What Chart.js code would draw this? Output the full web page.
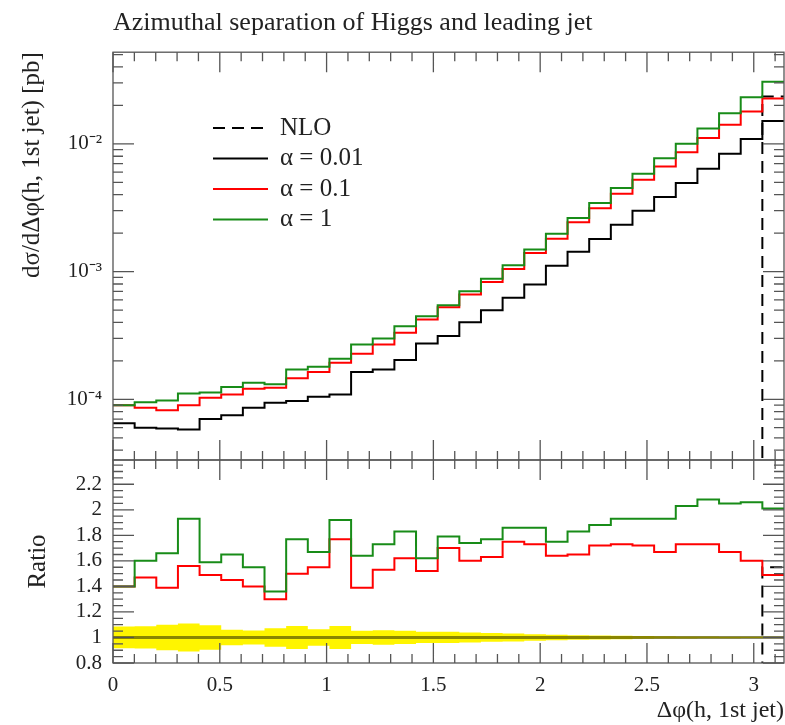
<!DOCTYPE html>
<html>
<head>
<meta charset="utf-8">
<title>Azimuthal separation of Higgs and leading jet</title>
<script src="https://cdn.jsdelivr.net/npm/chart.js@4.4.1/dist/chart.umd.min.js"></script>
<style>
  html, body { margin: 0; padding: 0; background: #fff; }
  #wrap { position: relative; width: 785px; height: 725px; }
  #wrap canvas { position: absolute; left: 0; top: 0; }
</style>
</head>
<body>
<div id="wrap">
  <canvas id="main" width="785" height="725"></canvas>
  <canvas id="ratio" width="785" height="725"></canvas>
</div>
<script>
// Histogram contents, 31 bins over [0, pi]
// ========================================================================
var nBins = 31;

var nlo = [0, 0, 0, 0, 0, 0, 0, 0, 0, 0, 0, 0, 0, 0, 0,
           0, 0, 0, 0, 0, 0, 0, 0, 0, 0, 0, 0, 0, 0, 0, 2.35e-2];

var alpha001 = [6.5e-5, 6.0e-5, 5.9e-5, 5.8e-5, 7.0e-5, 7.5e-5, 8.6e-5, 9.4e-5, 9.7e-5, 1.05e-4,
                1.09e-4, 1.64e-4, 1.71e-4, 2.03e-4, 2.74e-4, 3.13e-4, 4.02e-4, 4.99e-4, 6.23e-4, 7.91e-4,
                1.11e-3, 1.43e-3, 1.80e-3, 2.33e-3, 3.00e-3, 3.83e-3, 4.93e-3, 6.38e-3, 8.35e-3, 1.09e-2,
                1.51e-2];

var alpha01 = [9.0e-5, 8.6e-5, 8.2e-5, 9.0e-5, 1.03e-4, 1.09e-4, 1.21e-4, 1.23e-4, 1.46e-4, 1.64e-4,
               1.93e-4, 2.27e-4, 2.69e-4, 3.32e-4, 4.22e-4, 5.26e-4, 6.61e-4, 8.30e-4, 1.05e-3, 1.40e-3,
               1.81e-3, 2.43e-3, 3.14e-3, 4.07e-3, 5.24e-3, 6.65e-3, 8.61e-3, 1.11e-2, 1.41e-2, 1.79e-2,
               2.27e-2];

var alpha1 = [9.0e-5, 9.5e-5, 9.8e-5, 1.11e-4, 1.13e-4, 1.25e-4, 1.35e-4, 1.31e-4, 1.71e-4, 1.80e-4,
              2.08e-4, 2.69e-4, 3.00e-4, 3.74e-4, 4.48e-4, 5.46e-4, 7.02e-4, 8.81e-4, 1.12e-3, 1.49e-3,
              1.98e-3, 2.63e-3, 3.44e-3, 4.51e-3, 5.83e-3, 7.73e-3, 1.00e-2, 1.32e-2, 1.74e-2, 2.32e-2,
              3.07e-2];

// ratios to alpha = 0.01
var ratioNlo = [0, 0, 0, 0, 0, 0, 0, 0, 0, 0, 0, 0, 0, 0, 0,
                0, 0, 0, 0, 0, 0, 0, 0, 0, 0, 0, 0, 0, 0, 0, 1.55];

var ratio01 = [1.40, 1.47, 1.39, 1.56, 1.49, 1.45, 1.40, 1.30, 1.50, 1.55,
               1.77, 1.39, 1.53, 1.62, 1.52, 1.70, 1.60, 1.63, 1.75, 1.73,
               1.64, 1.65, 1.72, 1.73, 1.72, 1.67, 1.73, 1.73, 1.67, 1.60,
               1.49];

var ratio1 = [1.40, 1.60, 1.66, 1.93, 1.59, 1.65, 1.55, 1.36, 1.77, 1.67,
              1.92, 1.64, 1.73, 1.83, 1.62, 1.79, 1.74, 1.77, 1.86, 1.86,
              1.75, 1.83, 1.88, 1.93, 1.93, 1.93, 2.03, 2.08, 2.05, 2.06,
              2.01];

// relative stat. error of the reference
var refErr = [0.085, 0.087, 0.100, 0.110, 0.096, 0.060, 0.055, 0.073, 0.090, 0.065,
              0.090, 0.052, 0.057, 0.052, 0.044, 0.044, 0.039, 0.034, 0.031, 0.026,
              0.021, 0.018, 0.016, 0.013, 0.011, 0.009, 0.008, 0.007, 0.006, 0.005,
              0.005];

var xTickLabels = [0, 0.5, 1, 1.5, 2, 2.5, 3];
var logTickLabels = [1e-4, 1e-3, 1e-2];
var ratioTickLabels = [0.8, 1, 1.2, 1.4, 1.6, 1.8, 2, 2.2];

var LOG_MIN = 3.35e-5, LOG_MAX = 5.22e-2;

// Helpers
// ========================================================================
var binEdges = [];
for (var i = 0; i <= nBins; i++) binEdges.push(i * Math.PI / nBins);

// one point per bin edge, last value repeated at the upper edge
function steps(values) {
  return binEdges.map(function (e, i) {
    return { x: e, y: values[Math.min(i, values.length - 1)] };
  });
}

// empty bins can't sit on a log axis: push them below the visible range
function logSafe(values) {
  return values.map(function (v) { return v > 0 ? v : LOG_MIN / 10; });
}

function histo(label, values, color, extra) {
  return Object.assign({
    label: label,
    data: steps(values),
    borderColor: color,
    borderWidth: 2,
    stepped: 'before',   // horizontal to the next edge, then vertical
    pointRadius: 0,
    fill: false
  }, extra || {});
}

var SUP = { '-': '\u207B', '0': '\u2070', '1': '\u00B9', '2': '\u00B2', '3': '\u00B3',
            '4': '\u2074', '5': '\u2075', '6': '\u2076', '7': '\u2077', '8': '\u2078', '9': '\u2079' };
function pow10Label(v) {
  var e = String(Math.round(Math.log10(v)));
  return '10' + e.split('').map(function (c) { return SUP[c]; }).join('');
}

function fixTicks(values) {
  return function (scale) {
    scale.ticks = values.map(function (v) { return { value: v }; });
  };
}

Chart.defaults.font.family = "'Liberation Serif', 'Times New Roman', serif";
Chart.defaults.color = '#222';

// Inward ticks on all four sides plus the frame
// ========================================================================
var frameTicks = {
  id: 'frameTicks',
  afterDatasetsDraw: function (chart, args, opts) {
    var ctx = chart.ctx, a = chart.chartArea;
    var xs = chart.scales.x, ys = chart.scales.y;
    ctx.save();
    ctx.strokeStyle = '#555';
    ctx.lineWidth = 1.3;
    ctx.beginPath();
    for (var k = 0; k <= 31; k++) {
      var px = xs.getPixelForValue(k / 10);
      var lx = k % 5 === 0 ? 20 : 9;
      ctx.moveTo(px, a.top); ctx.lineTo(px, a.top + lx);
      ctx.moveTo(px, a.bottom); ctx.lineTo(px, a.bottom - lx);
    }
    opts.yTicks(ys).forEach(function (t) {
      if (t.value < ys.min || t.value > ys.max) return;
      var py = ys.getPixelForValue(t.value);
      var ly = t.major ? 21 : 10;
      ctx.moveTo(a.left, py); ctx.lineTo(a.left + ly, py);
      ctx.moveTo(a.right, py); ctx.lineTo(a.right - ly, py);
    });
    ctx.stroke();
    ctx.strokeRect(a.left, a.top, a.right - a.left, a.bottom - a.top);
    ctx.restore();
  }
};

// Legend drawn inside the upper panel, datasets in reverse order
var insideLegend = {
  id: 'insideLegend',
  afterDraw: function (chart, args, opts) {
    var ctx = chart.ctx;
    var sets = chart.data.datasets.slice().reverse();
    ctx.save();
    ctx.font = opts.font;
    ctx.textBaseline = 'middle';
    ctx.fillStyle = '#222';
    sets.forEach(function (ds, i) {
      var y = opts.top + i * opts.rowHeight;
      ctx.strokeStyle = ds.borderColor;
      ctx.lineWidth = ds.borderWidth;
      ctx.setLineDash(ds.borderDash || []);
      ctx.beginPath();
      ctx.moveTo(opts.left, y);
      ctx.lineTo(opts.left + opts.sample, y);
      ctx.stroke();
      ctx.fillText(ds.label, opts.left + opts.sample + opts.gap, y);
    });
    ctx.restore();
  }
};

function logTicks() {
  var out = [];
  for (var e = -5; e <= -1; e++) {
    for (var m = 1; m <= 9; m++) out.push({ value: m * Math.pow(10, e), major: m === 1 });
  }
  return out;
}

function ratioTicks() {
  var out = [];
  for (var k = 16; k <= 48; k++) {
    out.push({ value: k * 0.05, major: k % 4 === 0 });
  }
  return out;
}

var GREEN = 'rgb(24,140,24)';
var RED = 'rgb(255,0,0)';

// Upper panel: differential cross section
// ========================================================================
var mainEl = document.getElementById('main');
new Chart(mainEl, {
  type: 'line',
  data: {
    datasets: [
      histo('\u03B1 = 1', alpha1, GREEN),
      histo('\u03B1 = 0.1', alpha01, RED),
      histo('\u03B1 = 0.01', alpha001, '#000'),
      histo('NLO', logSafe(nlo), '#000', { borderDash: [12, 7] })
    ]
  },
  options: {
    responsive: false,
    devicePixelRatio: 1,
    animation: false,
    events: [],
    layout: { padding: { top: 0, left: 0, right: 1, bottom: 265 } },
    scales: {
      x: {
        type: 'linear',
        min: 0,
        max: Math.PI,
        display: false
      },
      y: {
        type: 'logarithmic',
        min: LOG_MIN,
        max: LOG_MAX,
        afterBuildTicks: fixTicks(logTickLabels),
        afterFit: function (s) { s.width = 113; },
        grid: { display: false, drawTicks: false },
        border: { display: false },
        ticks: {
          padding: 11,
          font: { size: 21 },
          callback: function (v) { return pow10Label(v); }
        },
        title: {
          display: true,
          text: 'd\u03C3/d\u0394\u03C6(h, 1st jet) [pb]',
          align: 'end',
          font: { size: 25 },
          padding: { top: 17, bottom: 0 }
        }
      }
    },
    plugins: {
      legend: { display: false },
      tooltip: { enabled: false },
      title: {
        display: true,
        fullSize: false,
        align: 'start',
        text: 'Azimuthal separation of Higgs and leading jet',
        color: '#222',
        font: { size: 26, weight: 'normal' },
        padding: { top: 8, bottom: 13 }
      },
      frameTicks: { yTicks: logTicks },
      insideLegend: { font: "25px 'Liberation Serif', serif", left: 213, top: 128, rowHeight: 30.5, sample: 55, gap: 12 }
    }
  },
  plugins: [frameTicks, insideLegend]
});

// Lower panel: ratio to alpha = 0.01
// ========================================================================
var ratioEl = document.getElementById('ratio');
new Chart(ratioEl, {
  type: 'line',
  data: {
    datasets: [
      histo('\u03B1 = 1', ratio1, GREEN),
      histo('\u03B1 = 0.1', ratio01, RED),
      histo('NLO', ratioNlo, '#000', { borderDash: [12, 7] }),
      // the reference divided by itself
      histo('\u03B1 = 0.01', alpha001.map(function (v) { return v / v; }), 'rgba(60,60,0,0.6)', { borderWidth: 3 }),
      histo('band up', refErr.map(function (e) { return 1 + e; }), 'rgba(0,0,0,0)',
            { borderWidth: 0, fill: '+1', backgroundColor: 'rgb(255,245,0)' }),
      histo('band down', refErr.map(function (e) { return 1 - e; }), 'rgba(0,0,0,0)', { borderWidth: 0 })
    ]
  },
  options: {
    responsive: false,
    devicePixelRatio: 1,
    animation: false,
    events: [],
    layout: { padding: { top: 460, left: 0, right: 1, bottom: 0 } },
    scales: {
      x: {
        type: 'linear',
        min: 0,
        max: Math.PI,
        afterBuildTicks: fixTicks(xTickLabels),
        afterFit: function (s) { s.height = 62; },
        grid: { display: false, drawTicks: false },
        border: { display: false },
        ticks: {
          padding: 10,
          maxRotation: 0,
          font: { size: 21 },
          callback: function (v) { return String(v); }
        },
        title: {
          display: true,
          text: '\u0394\u03C6(h, 1st jet)',
          align: 'end',
          font: { size: 24 },
          padding: { top: 0, bottom: 0 }
        }
      },
      y: {
        type: 'linear',
        min: 0.8,
        max: 2.39,
        afterBuildTicks: fixTicks(ratioTickLabels),
        afterFit: function (s) { s.width = 113; },
        grid: { display: false, drawTicks: false },
        border: { display: false },
        ticks: {
          padding: 11,
          font: { size: 21 },
          callback: function (v) { return String(Math.round(v * 10) / 10); }
        },
        title: {
          display: true,
          text: 'Ratio',
          align: 'center',
          font: { size: 25 },
          padding: { top: 23, bottom: 0 }
        }
      }
    },
    plugins: {
      legend: { display: false },
      tooltip: { enabled: false },
      frameTicks: { yTicks: ratioTicks }
    }
  },
  plugins: [frameTicks]
});
</script>
</body>
</html>
